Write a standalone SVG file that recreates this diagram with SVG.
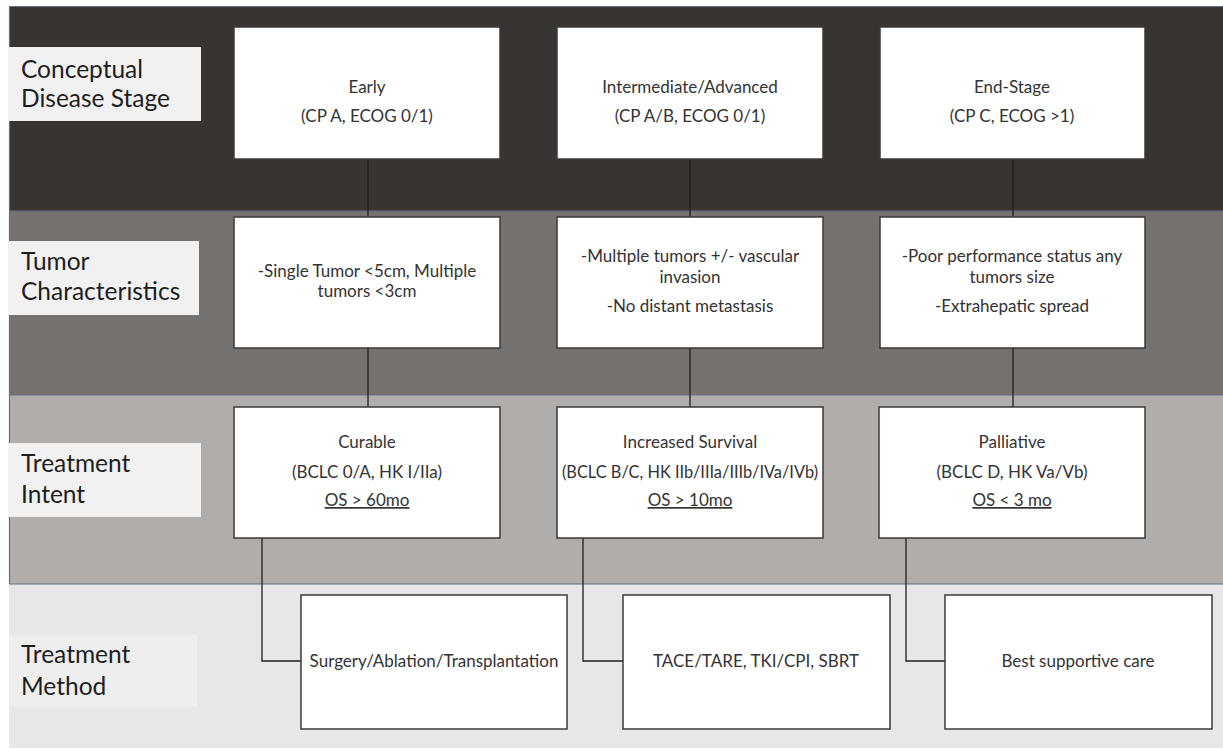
<svg xmlns="http://www.w3.org/2000/svg" width="1223" height="749" viewBox="0 0 1223 749">
<style>
.lbl{fill:#f1f1f1}
.lt{font-family:Lato,"Noto Sans",sans-serif;font-size:24.5px;fill:#1e1e1e}
.box{fill:#ffffff;stroke:#3a3a3a;stroke-width:1.5}
.bt{font-family:Lato,"Noto Sans",sans-serif;font-size:17px;fill:#333333;text-anchor:middle}
.u{text-decoration:underline}
.con{fill:none;stroke:#1f1f1f;stroke-width:1.3}
.sep{stroke:#65708a;stroke-width:1.2}
</style>
<rect width="1223" height="749" fill="#ffffff"/>
<g id="bands">
<rect x="9" y="6" width="1214" height="205" fill="#373432"/>
<rect x="9" y="211" width="1214" height="184" fill="#767270"/>
<rect x="9" y="395" width="1214" height="189" fill="#b1adab"/>
<rect x="9" y="584" width="1214" height="164" fill="#e8e6e6"/>
<line class="sep" x1="9" y1="6.5" x2="1223" y2="6.5"/>
<line class="sep" x1="9" y1="211" x2="1223" y2="211"/>
<line class="sep" x1="9" y1="395" x2="1223" y2="395"/>
<line class="sep" x1="9" y1="584" x2="1223" y2="584"/>
<line class="sep" x1="9.5" y1="6" x2="9.5" y2="584"/>
</g>
<g id="label-stage"><rect class="lbl" x="9" y="47" width="192" height="74"/><text class="lt" x="21" y="78">Conceptual</text><text class="lt" x="21" y="107">Disease Stage</text></g>
<g id="label-tumor"><rect class="lbl" x="9" y="241" width="190" height="74"/><text class="lt" x="21" y="270">Tumor</text><text class="lt" x="21" y="300">Characteristics</text></g>
<g id="label-intent"><rect class="lbl" x="9" y="443" width="192" height="74"/><text class="lt" x="21" y="472">Treatment</text><text class="lt" x="21" y="503">Intent</text></g>
<g id="label-method"><rect class="lbl" x="9" y="635" width="188" height="72" opacity="0.7"/><text class="lt" x="21" y="663">Treatment</text><text class="lt" x="21" y="695">Method</text></g>
<g id="connectors">
<line class="con" x1="368" y1="159" x2="368" y2="217"/>
<line class="con" x1="368" y1="348" x2="368" y2="407"/>
<line class="con" x1="690" y1="159" x2="690" y2="217"/>
<line class="con" x1="690" y1="348" x2="690" y2="407"/>
<line class="con" x1="1013" y1="159" x2="1013" y2="217"/>
<line class="con" x1="1013" y1="348" x2="1013" y2="407"/>
<path class="con" d="M262 538 V661 H301"/>
<path class="con" d="M583 538 V661 H623"/>
<path class="con" d="M906 538 V661 H945"/>
</g>
<g id="stage-early"><rect class="box" x="234" y="27" width="266" height="132"/><text class="bt" x="367" y="93">Early</text><text class="bt" x="367" y="122">(CP A, ECOG 0/1)</text></g>
<g id="stage-intermediate"><rect class="box" x="557" y="27" width="266" height="132"/><text class="bt" x="690" y="93">Intermediate/Advanced</text><text class="bt" x="690" y="122">(CP A/B, ECOG 0/1)</text></g>
<g id="stage-end"><rect class="box" x="880" y="27" width="265" height="132"/><text class="bt" x="1012" y="93">End-Stage</text><text class="bt" x="1012" y="122">(CP C, ECOG &gt;1)</text></g>
<g id="tumor-early"><rect class="box" x="234" y="217" width="266" height="131"/><text class="bt" x="367" y="277">-Single Tumor &lt;5cm, Multiple</text><text class="bt" x="367" y="297">tumors &lt;3cm</text></g>
<g id="tumor-intermediate"><rect class="box" x="557" y="217" width="266" height="131"/><text class="bt" x="690" y="262">-Multiple tumors +/- vascular</text><text class="bt" x="690" y="283">invasion</text><text class="bt" x="690" y="312">-No distant metastasis</text></g>
<g id="tumor-end"><rect class="box" x="880" y="217" width="265" height="131"/><text class="bt" x="1012" y="262">-Poor performance status any</text><text class="bt" x="1012" y="283">tumors size</text><text class="bt" x="1012" y="312">-Extrahepatic spread</text></g>
<g id="intent-curable"><rect class="box" x="234" y="407" width="266" height="131"/><text class="bt" x="367" y="448">Curable</text><text class="bt" x="367" y="478">(BCLC 0/A, HK I/IIa)</text><text class="bt u" x="367" y="506">OS &gt; 60mo</text></g>
<g id="intent-survival"><rect class="box" x="557" y="407" width="266" height="131"/><text class="bt" x="690" y="448">Increased Survival</text><text class="bt" x="690" y="478" textLength="256" lengthAdjust="spacingAndGlyphs">(BCLC B/C, HK IIb/IIIa/IIIb/IVa/IVb)</text><text class="bt u" x="690" y="506">OS &gt; 10mo</text></g>
<g id="intent-palliative"><rect class="box" x="879" y="407" width="266" height="131"/><text class="bt" x="1012" y="448">Palliative</text><text class="bt" x="1012" y="478">(BCLC D, HK Va/Vb)</text><text class="bt u" x="1012" y="506">OS &lt; 3 mo</text></g>
<g id="method-surgery"><rect class="box" x="301" y="595" width="266" height="134"/><text class="bt" x="434" y="667">Surgery/Ablation/Transplantation</text></g>
<g id="method-tace"><rect class="box" x="623" y="595" width="267" height="134"/><text class="bt" x="756" y="667">TACE/TARE, TKI/CPI, SBRT</text></g>
<g id="method-bsc"><rect class="box" x="945" y="595" width="267" height="134"/><text class="bt" x="1078" y="667">Best supportive care</text></g>
</svg>
